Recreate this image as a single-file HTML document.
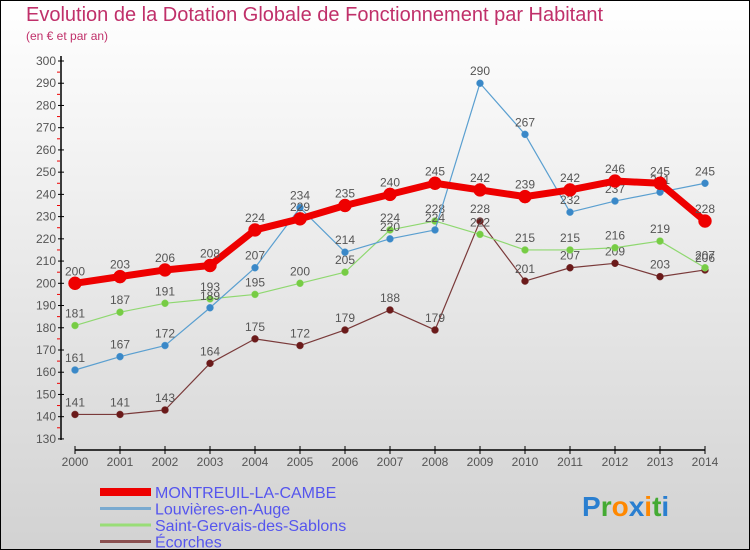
<!DOCTYPE html>
<html><head><meta charset="utf-8"><style>
body{margin:0;}
#c{position:relative;width:748px;height:548px;border:1px solid #000;background:linear-gradient(#fff,#d2d2d2);font-family:"Liberation Sans",sans-serif;overflow:hidden;}
.t{position:absolute;left:25px;top:3px;font-size:20px;color:#c0306a;}
.s{position:absolute;left:25px;top:28px;font-size:12px;color:#c0306a;}
svg text{font-family:"Liberation Sans",sans-serif;}
</style></head><body>
<div id="c">
<div class="t">Evolution de la Dotation Globale de Fonctionnement par Habitant</div>
<div class="s">(en € et par an)</div>
<svg id="g" width="750" height="550" style="position:absolute;left:-1px;top:-1px"></svg>
</div>
<script>
const years=[2000,2001,2002,2003,2004,2005,2006,2007,2008,2009,2010,2011,2012,2013,2014];
const montreuil=[200,203,206,208,224,229,235,240,245,242,239,242,246,245,228];
const louvieres=[161,167,172,189,207,234,214,220,224,290,267,232,237,241,245];
const gervais=[181,187,191,193,195,200,205,224,228,222,215,215,216,219,207];
const ecorches=[141,141,143,164,175,172,179,188,179,228,201,207,209,203,206];
const yTicks=[130,140,150,160,170,180,190,200,210,220,230,240,250,260,270,280,290,300];
const seriesNames=["MONTREUIL-LA-CAMBE","Louvières-en-Auge","Saint-Gervais-des-Sablons","Écorches"];
const NS="http://www.w3.org/2000/svg";
const svg=document.getElementById('g');
const x=i=>75+i*(630/(years.length-1));
const y=v=>61+(300-v)*2.223;
function el(t,a,p){const e=document.createElementNS(NS,t);for(const k in a)e.setAttribute(k,a[k]);(p||svg).appendChild(e);return e;}
let ax=el('line',{x1:61,y1:56,x2:61,y2:440,stroke:'#000','stroke-width':1.5});


yTicks.forEach(v=>{
  el('line',{x1:58,x2:64,y1:y(v),y2:y(v),stroke:'#000'});
  if(v<300) el('line',{x1:57,x2:60,y1:y(v+5),y2:y(v+5),stroke:'#e00'});
  const t=el('text',{x:56,y:y(v)+4,'text-anchor':'end','font-size':12,fill:'#555'});
  t.textContent=v;
  
  
});
let xa=el('line',{x1:75,y1:450,x2:705,y2:450,stroke:'#000','stroke-width':1.5});


years.forEach((yr,i)=>{
  el('line',{x1:x(i),x2:x(i),y1:446,y2:454,stroke:'#000'});
  const t=el('text',{x:x(i),y:466,'text-anchor':'middle','font-size':12,fill:'#555'});
  t.textContent=yr;
  
  
});
function series(data,color,dot,w,r,name){
  const g=el('g',{});
  
  
  el('polyline',{points:data.map((v,i)=>x(i)+','+y(v)).join(' '),fill:'none',stroke:color,'stroke-width':w,'stroke-linejoin':'round'},g);
  data.forEach((v,i)=>{
    const c=el('circle',{cx:x(i),cy:y(v),r:r,fill:dot,stroke:color,'stroke-width':0.5},g);
    
    
    const t=el('text',{x:x(i),y:y(v)-8,'text-anchor':'middle','font-size':12,fill:'#555'},g);
    t.textContent=v;
  });
}
series(ecorches,'#7a3a3a','#6b1a1a',1.2,3.5,'series-ecorches');
series(gervais,'#8fd870','#77cc44',1.2,3.5,'series-saint-gervais');
series(louvieres,'#5a9fd0','#3a88c8',1.2,3.5,'series-louvieres');
series(montreuil,'#ee0000','#ee0000',7,6.5,'series-montreuil');
const lc=['#ee0000','#7aaad0','#99dd77','#8a5050'],lw=[8,3,3,3];
seriesNames.forEach((n,i)=>{
  const yy=492+i*16.5;
  const l=el('line',{x1:100,x2:151,y1:yy,y2:yy,stroke:lc[i],'stroke-width':lw[i]});
  
  
  const t=el('text',{x:155,y:yy+6,'font-size':16,fill:'#5555ee'});
  t.textContent=n;
  
  
});
const lg=el('text',{x:582,y:516,'font-size':28,'font-weight':'bold'});


[['P','#2a7fd0'],['r','#44aa33'],['o','#ff8800'],['x','#2a7fd0'],['i','#ff8800'],['t','#44aa33'],['i','#2a7fd0']].forEach(([c,f])=>{el('tspan',{fill:f},lg).textContent=c;});
</script>
</body></html>
